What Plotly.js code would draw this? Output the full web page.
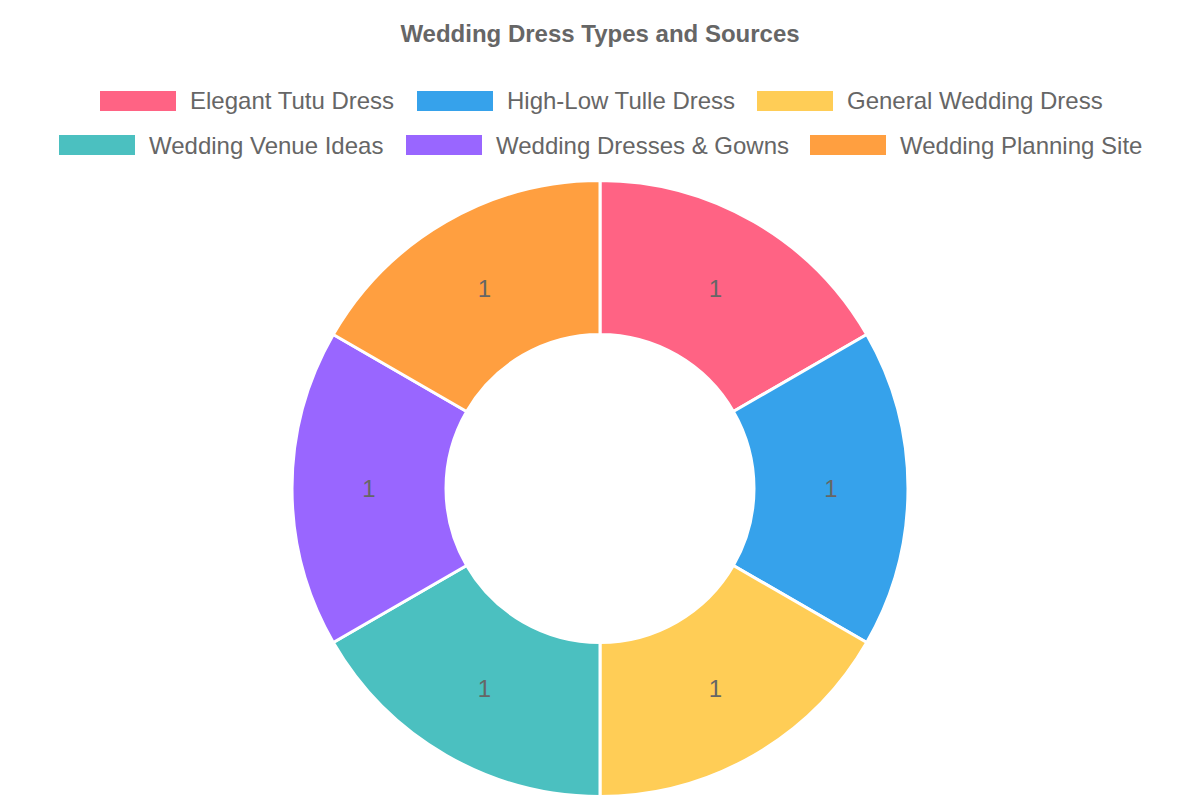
<!DOCTYPE html>
<html>
<head>
<meta charset="utf-8">
<script src="https://cdn.plot.ly/plotly-3.0.1.min.js"></script>
<style>
html,body{margin:0;padding:0;background:#fff;}
#chart{width:1200px;height:800px;}
</style>
</head>
<body>
<div id="chart"></div>
<script>
// Data
const categories = ["Elegant Tutu Dress", "High-Low Tulle Dress", "General Wedding Dress",
                    "Wedding Venue Ideas", "Wedding Dresses & Gowns", "Wedding Planning Site"];
const values = [1, 1, 1, 1, 1, 1];
const colors = ["rgb(255,99,132)", "rgb(54,162,235)", "rgb(255,205,86)",
                "rgb(75,192,192)", "rgb(153,102,255)", "rgb(255,159,64)"];
const chartTitle = "Wedding Dress Types and Sources";

// Layout helpers (pixel -> paper)
const W = 1200, H = 800;
const px = x => x / W;
const py = y => 1 - y / H;

// Legend layout (two rows, Chart.js style)
const legendRows = [[0, 1, 2], [3, 4, 5]];
const rowStartX = [[100, 417, 757], [59, 406, 810]];
const rowCenterY = [101, 145];
const boxW = 76, boxH = 20, textGap = 12;

const shapes = [];
const annotations = [];
legendRows.forEach((row, r) => {
  row.forEach((idx, k) => {
    const x0 = rowStartX[r][k];
    const cy = rowCenterY[r];
    shapes.push({
      type: "rect", xref: "paper", yref: "paper",
      x0: px(x0), x1: px(x0 + boxW),
      y0: py(cy + boxH / 2), y1: py(cy - boxH / 2),
      fillcolor: colors[idx], line: {width: 0}
    });
    annotations.push({
      xref: "paper", yref: "paper",
      x: px(x0 + boxW + textGap), y: py(cy),
      xanchor: "left", yanchor: "middle",
      text: categories[idx], showarrow: false,
      font: {family: "Liberation Sans, Arial, Helvetica, sans-serif", size: 24, color: "#666"}
    });
  });
});

const trace = {
  type: "pie",
  labels: categories,
  values: values,
  marker: {colors: colors, line: {color: "#fff", width: 3}},
  hole: 0.5,
  sort: false,
  direction: "clockwise",
  rotation: 0,
  textinfo: "value",
  textposition: "inside",
  insidetextorientation: "horizontal",
  insidetextfont: {family: "Liberation Sans, Arial, Helvetica, sans-serif", size: 24, color: "#666"},
  hoverinfo: "none",
  showlegend: false,
  domain: {x: [px(292), px(908)], y: [py(797), py(180)]}
};

const layout = {
  width: W, height: H,
  margin: {l: 0, r: 0, t: 0, b: 0},
  paper_bgcolor: "#fff",
  plot_bgcolor: "#fff",
  showlegend: false,
  title: {
    text: "<b>" + chartTitle + "</b>",
    x: 0.5, xanchor: "center",
    y: py(34), yanchor: "middle",
    font: {family: "Liberation Sans, Arial, Helvetica, sans-serif", size: 24, color: "#666"}
  },
  shapes: shapes,
  annotations: annotations
};

Plotly.newPlot("chart", [trace], layout, {displayModeBar: false, staticPlot: true});
</script>
</body>
</html>
